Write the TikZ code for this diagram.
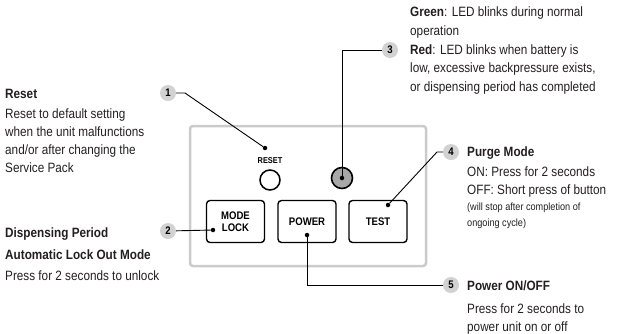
\documentclass[tikz,border=0pt]{standalone}
\usepackage{fontspec}
\setmainfont{Liberation Sans}[FakeStretch=0.87]
\usetikzlibrary{positioning}

\definecolor{bubblegray}{HTML}{D2D2D2}
\definecolor{panelgray}{HTML}{CBCBCB}
\definecolor{ledgray}{HTML}{A8A8A8}
\definecolor{inkblack}{HTML}{231F20}

\tikzset{
  callout/.style={circle, fill=bubblegray, inner sep=0pt, minimum size=16pt,
    font=\bfseries\fontsize{11}{11}\selectfont},
  keybtn/.style={draw, line width=1.4pt, rounded corners=3.5pt, fill=white,
    minimum width=58pt, minimum height=42pt, align=center,
    font=\bfseries\fontsize{11}{11.5}\selectfont},
  lead/.style={line width=0.9pt},
  pin/.style={circle, fill=black, inner sep=0pt, minimum size=4.5pt},
  note/.style={anchor=base west, align=left, inner sep=0pt, text=inkblack,
    font=\fontsize{13.5}{18}\selectfont},
}

\begin{document}
\begin{tikzpicture}[x=1pt, y=-1pt]

    \useasboundingbox (0,0) rectangle (621,333);

    % Control panel
    \draw[panelgray, line width=2.5pt, rounded corners=3pt] (190,126) rectangle (426,266);

    % Reset button and LED
    \node[font=\bfseries\fontsize{8.5}{8}\selectfont] (resetlbl) at (270,161) {RESET};
    \node[circle, draw, line width=1.5pt, minimum size=20pt, inner sep=0pt] (resetbtn) at (270,180) {};
    \node[circle, draw, line width=1.6pt, fill=ledgray, minimum size=21pt, inner sep=0pt] (led) at (342,178) {};

    % Keys
    \node[keybtn] (modelock) at (235.5,221.5) {MODE\\LOCK};
    \node[keybtn] (power) at (307,221.5) {POWER};
    \node[keybtn] (test) at (378,221.5) {TEST};

    % Pins
    \node[pin] (p1) at (265,148) {};
    \node[pin] (p2) at (213,230) {};
    \node[pin] (p3) at (led.center) {};
    \node[pin] (p4) at (388,205) {};
    \node[pin] (p5) at (307,235) {};

    % Callouts
    \node[callout] (c1) at (168,93) {1};
    \node[callout] (c2) at (168,231) {2};
    \node[callout] (c3) at (390,50) {3};
    \node[callout] (c4) at (451,152) {4};
    \node[callout] (c5) at (451,285) {5};

    % Leaders
    \coordinate (bend1) at (185,93);
    \coordinate (bend4) at (437,152);
    \draw[lead] (c1) -- (bend1) -- (p1);
    \draw[lead] (c2) -- (p2);
    \draw[lead] (c3) -| (p3);
    \draw[lead] (p4) -- (bend4) -- (c4);
    \draw[lead] (p5) |- (c5);

    % Texts (anchored at the baseline of the last line)
    \node[note] (resettxt) at (5,172.5) {\textbf{Reset}\\[2pt]Reset to default setting\\when the unit malfunctions\\and/or after changing the\\Service Pack};
    \node[note] (locktxt) at (5,280.5) {\textbf{Dispensing Period}\\[4pt]\textbf{Automatic Lock Out Mode}\\[3pt]Press for 2 seconds to unlock};
    \node[note, font=\fontsize{13.5}{18.7}\selectfont] (ledtxt) at (410,91.5) {\textbf{Green}: LED blinks during normal\\operation\\\textbf{Red}: LED blinks when battery is\\low, excessive backpressure exists,\\or dispensing period has completed};
    \node[note] (purgetxt) at (467,194.5) {\textbf{Purge Mode}\\[2pt]ON: Press for 2 seconds\\OFF: Short press of button};
    \node[note, font=\fontsize{10.5}{16}\selectfont] (purgenote) at (467,226.5) {(will stop after completion of\\ongoing cycle)};
    \node[note] (powertxt) at (467,331) {\textbf{Power ON/OFF}\\[5pt]Press for 2 seconds to\\power unit on or off};

\end{tikzpicture}
\end{document}
